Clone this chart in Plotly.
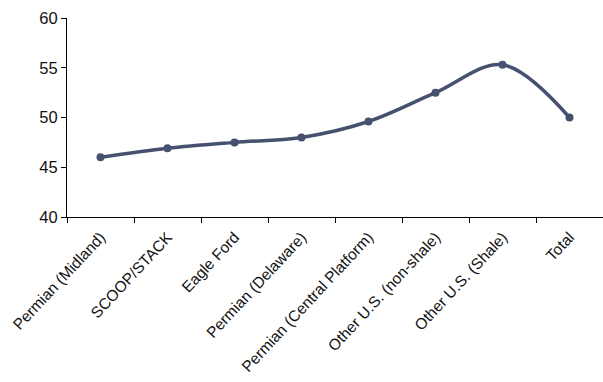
import plotly.graph_objects as go

categories = ["Permian (Midland)", "SCOOP/STACK", "Eagle Ford", "Permian (Delaware)",
              "Permian (Central Platform)", "Other U.S. (non-shale)", "Other U.S. (Shale)", "Total"]
values = [46.0, 46.9, 47.5, 48.0, 49.6, 52.5, 55.3, 50.0]
y_ticks = [40, 45, 50, 55, 60]

fig = go.Figure()
fig.add_trace(go.Scatter(
    x=categories, y=values, mode="lines+markers",
    line=dict(color="#46516f", width=3.5, shape="spline", smoothing=1.0),
    marker=dict(color="#46516f", size=8),
))

fig.update_layout(
    width=603, height=382,
    margin=dict(l=67, r=0, t=18, b=165),
    plot_bgcolor="white", paper_bgcolor="white",
    showlegend=False,
    font=dict(family="Liberation Sans, Arial, sans-serif", size=15, color="#111111"),
)
fig.update_xaxes(
    type="category", range=[-0.5, 7.5],
    showline=True, linecolor="black", linewidth=1,
    ticks="outside", tickson="boundaries", ticklen=5, tickcolor="black",
    tickangle=-47, showgrid=False, zeroline=False,
    tickfont=dict(size=15.5), ticklabelstandoff=4,
)
fig.update_yaxes(
    range=[40, 60], tickvals=y_ticks,
    showline=True, linecolor="black", linewidth=1,
    ticks="outside", ticklen=5, tickcolor="black",
    showgrid=False, zeroline=False,
    tickfont=dict(size=16.5),
)

fig.write_html("out.html")
